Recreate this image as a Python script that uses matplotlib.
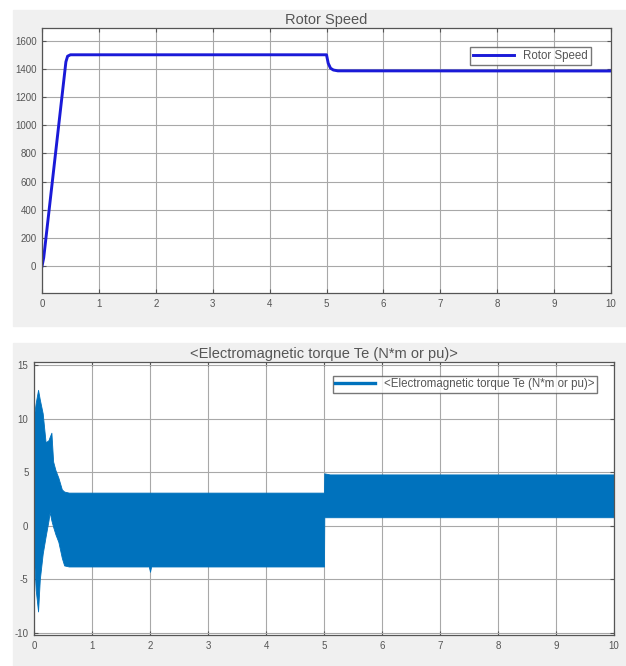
import matplotlib
matplotlib.use("Agg")
import matplotlib.pyplot as plt
from matplotlib.patches import Rectangle

plt.rcParams['font.family'] = ['Liberation Sans', 'DejaVu Sans']
plt.rcParams['axes.unicode_minus'] = False

# rotor speed (rpm)
speed_t = [0, 0.03, 0.42, 0.45, 0.5, 5.0, 5.03, 5.07, 5.12, 5.2, 10]
speed_rpm = [0, 60, 1450, 1490, 1500, 1500, 1440, 1405, 1392, 1386, 1385]

# torque envelope (upper / lower edge of the oscillating band)
torque_t = [0, 0.005, 0.03, 0.07, 0.1, 0.15, 0.2, 0.25, 0.27, 0.3, 0.33, 0.37,
            0.42, 0.48, 0.52, 0.6, 1.98, 2.0, 2.02, 5.0, 5.005, 5.1, 10]
torque_hi = [0, 10.5, 11.5, 12.7, 11.8, 10.5, 7.8, 8.0, 8.3, 8.7, 6.0, 5.2,
             4.5, 3.4, 3.2, 3.1, 3.1, 3.1, 3.1, 3.1, 4.9, 4.8, 4.8]
torque_lo = [0, -3.5, -6.0, -8.0, -5.0, -2.6, -1.0, 0.5, 1.3, 0.5, -0.1, -0.8,
             -1.5, -3.0, -3.7, -3.8, -3.8, -4.3, -3.8, -3.8, 0.8, 0.8, 0.8]

xticks = list(range(0, 11))
speed_ticks = list(range(0, 1601, 200))
torque_ticks = [-10, -5, 0, 5, 10, 15]

W, H = 626, 666
fig = plt.figure(figsize=(W / 100, H / 100), dpi=100)
fig.patch.set_facecolor('white')

# grey scope panels behind each axes
for y0, h in [(1 - 326 / H, 316 / H), (0, 1 - 343 / H)]:
    fig.add_artist(Rectangle((13 / W, y0), 1 - 13 / W, h, transform=fig.transFigure,
                             color='#f0f0f0', zorder=-5))


def style(ax, title):
    ax.set_facecolor('white')
    ax.set_zorder(2)
    ax.grid(True, color='#a8a8a8', linewidth=0.8)
    ax.set_axisbelow(True)
    for s in ax.spines.values():
        s.set_color('#555555')
        s.set_linewidth(0.9)
    ax.tick_params(direction='in', length=3, labelsize=7, colors='#555555',
                   top=True, right=True, pad=4)
    ax.set_title(title, fontsize=10.5, color='#555555', pad=3)


ax1 = fig.add_axes([42 / W, 1 - 293 / H, 569 / W, 265 / H])
ax1.plot(speed_t, speed_rpm, color='#1a1ad8', linewidth=2.1, label='Rotor Speed')
ax1.set_xlim(0, 10)
ax1.set_ylim(-190, 1690)
ax1.set_xticks(xticks)
ax1.set_yticks(speed_ticks)
style(ax1, 'Rotor Speed')
ax1.legend(loc='upper right', fontsize=8.3, handlelength=3.6, frameon=True,
           fancybox=False, edgecolor='#555555', borderpad=0.25,
           bbox_to_anchor=(0.975, 0.95), labelcolor='#555555')

ax2 = fig.add_axes([34 / W, 1 - 635 / H, 580 / W, 273 / H])
ax2.fill_between(torque_t, torque_lo, torque_hi, color='#0072BD', linewidth=0.6,
                 edgecolor='#0072BD')
ax2.set_xlim(0, 10)
ax2.set_ylim(-10.2, 15.3)
ax2.set_xticks(xticks)
ax2.set_yticks(torque_ticks)
style(ax2, '<Electromagnetic torque Te (N*m or pu)>')
h = [plt.Line2D([], [], color='#0072BD', linewidth=2.4)]
ax2.legend(h, ['<Electromagnetic torque Te (N*m or pu)>'], loc='upper right',
           fontsize=8.3, handlelength=3.4, frameon=True, fancybox=False,
           edgecolor='#555555', borderpad=0.2, bbox_to_anchor=(0.98, 0.97),
           labelcolor='#555555')

fig.savefig('out.png', dpi=100)
